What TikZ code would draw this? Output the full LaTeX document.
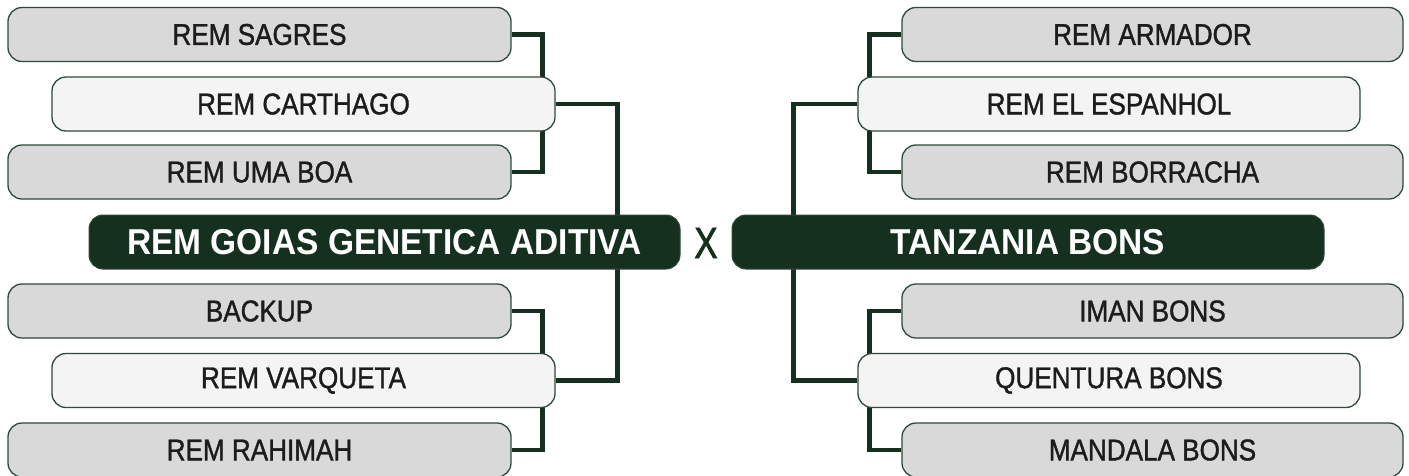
\documentclass[tikz,border=0pt]{standalone}
\usepackage{fontspec}
\setmainfont{Liberation Sans}[FakeStretch=0.93]
\newfontfamily\medfont{Liberation Sans}[FakeStretch=0.87, FakeBold=1.2]
\newfontfamily\xfont{Liberation Sans}[FakeStretch=0.8, FakeBold=1.5]
\definecolor{dkgreen}{HTML}{16301F}
\definecolor{edgegreen}{HTML}{2E4A38}
\definecolor{boxgrey}{HTML}{D9D9D9}
\definecolor{boxlight}{HTML}{F4F4F4}
\definecolor{txtdark}{HTML}{1C1C1C}
\pgfdeclarelayer{background}
\pgfsetlayers{background,main}
\begin{document}
\begin{tikzpicture}[x=1pt,y=-1pt,
  outerbox/.style={rectangle, rounded corners=14pt, draw=edgegreen, line width=1.3pt,
    fill=boxgrey, minimum width=503pt, minimum height=54pt, inner sep=0pt,
    text=txtdark, font=\medfont\fontsize{30}{33}\selectfont},
  innerbox/.style={outerbox, fill=boxlight},
  mainbox/.style={rectangle, rounded corners=14pt, draw=edgegreen, line width=1pt,
    fill=dkgreen, minimum height=54pt, inner sep=0pt, text=white,
    font=\fontsize{36}{40}\bfseries\selectfont},
  link/.style={draw=dkgreen, line width=4.5pt}]
\useasboundingbox (0,0) rectangle (1409,475);

% left side
\node[outerbox] (sagres) at (259.5,34.5) {REM SAGRES};
\node[innerbox] (carthago) at (303.5,104) {REM CARTHAGO};
\node[outerbox] (umaboa) at (259.5,172) {REM UMA BOA};
\node[mainbox, minimum width=591pt] (goias) at (384.5,242) {REM GOIAS GENETICA ADITIVA};
\node[outerbox] (backup) at (259.5,311) {BACKUP};
\node[innerbox] (varqueta) at (303.5,380.5) {REM VARQUETA};
\node[outerbox] (rahimah) at (259.5,450) {REM RAHIMAH};

% centre
\node[text=dkgreen, font=\xfont\fontsize{44}{48}\selectfont, inner sep=0pt] (vs) at (706,243) {X};

% right side
\node[outerbox, minimum width=501pt] (armador) at (1152.5,34.5) {REM ARMADOR};
\node[innerbox, minimum width=502pt] (espanhol) at (1109,104) {REM EL ESPANHOL};
\node[outerbox, minimum width=501pt] (borracha) at (1152.5,172) {REM BORRACHA};
\node[mainbox, minimum width=592pt] (tanzania) at (1028,242) {TANZANIA BONS};
\node[outerbox, minimum width=501pt] (iman) at (1152.5,311) {IMAN BONS};
\node[innerbox, minimum width=502pt] (quentura) at (1109,380.5) {QUENTURA BONS};
\node[outerbox, minimum width=501pt] (mandala) at (1152.5,450) {MANDALA BONS};

\begin{pgfonlayer}{background}
\draw[link] (sagres.east) -- ++(31,0) |- (umaboa.east);
\draw[link] (carthago.east) -- ++(62,0) |- (varqueta.east);
\draw[link] (backup.east) -- ++(31,0) |- (rahimah.east);
\draw[link] (armador.west) -- ++(-32,0) |- (borracha.west);
\draw[link] (espanhol.west) -- ++(-64,0) |- (quentura.west);
\draw[link] (iman.west) -- ++(-32,0) |- (mandala.west);
\end{pgfonlayer}
\end{tikzpicture}
\end{document}
